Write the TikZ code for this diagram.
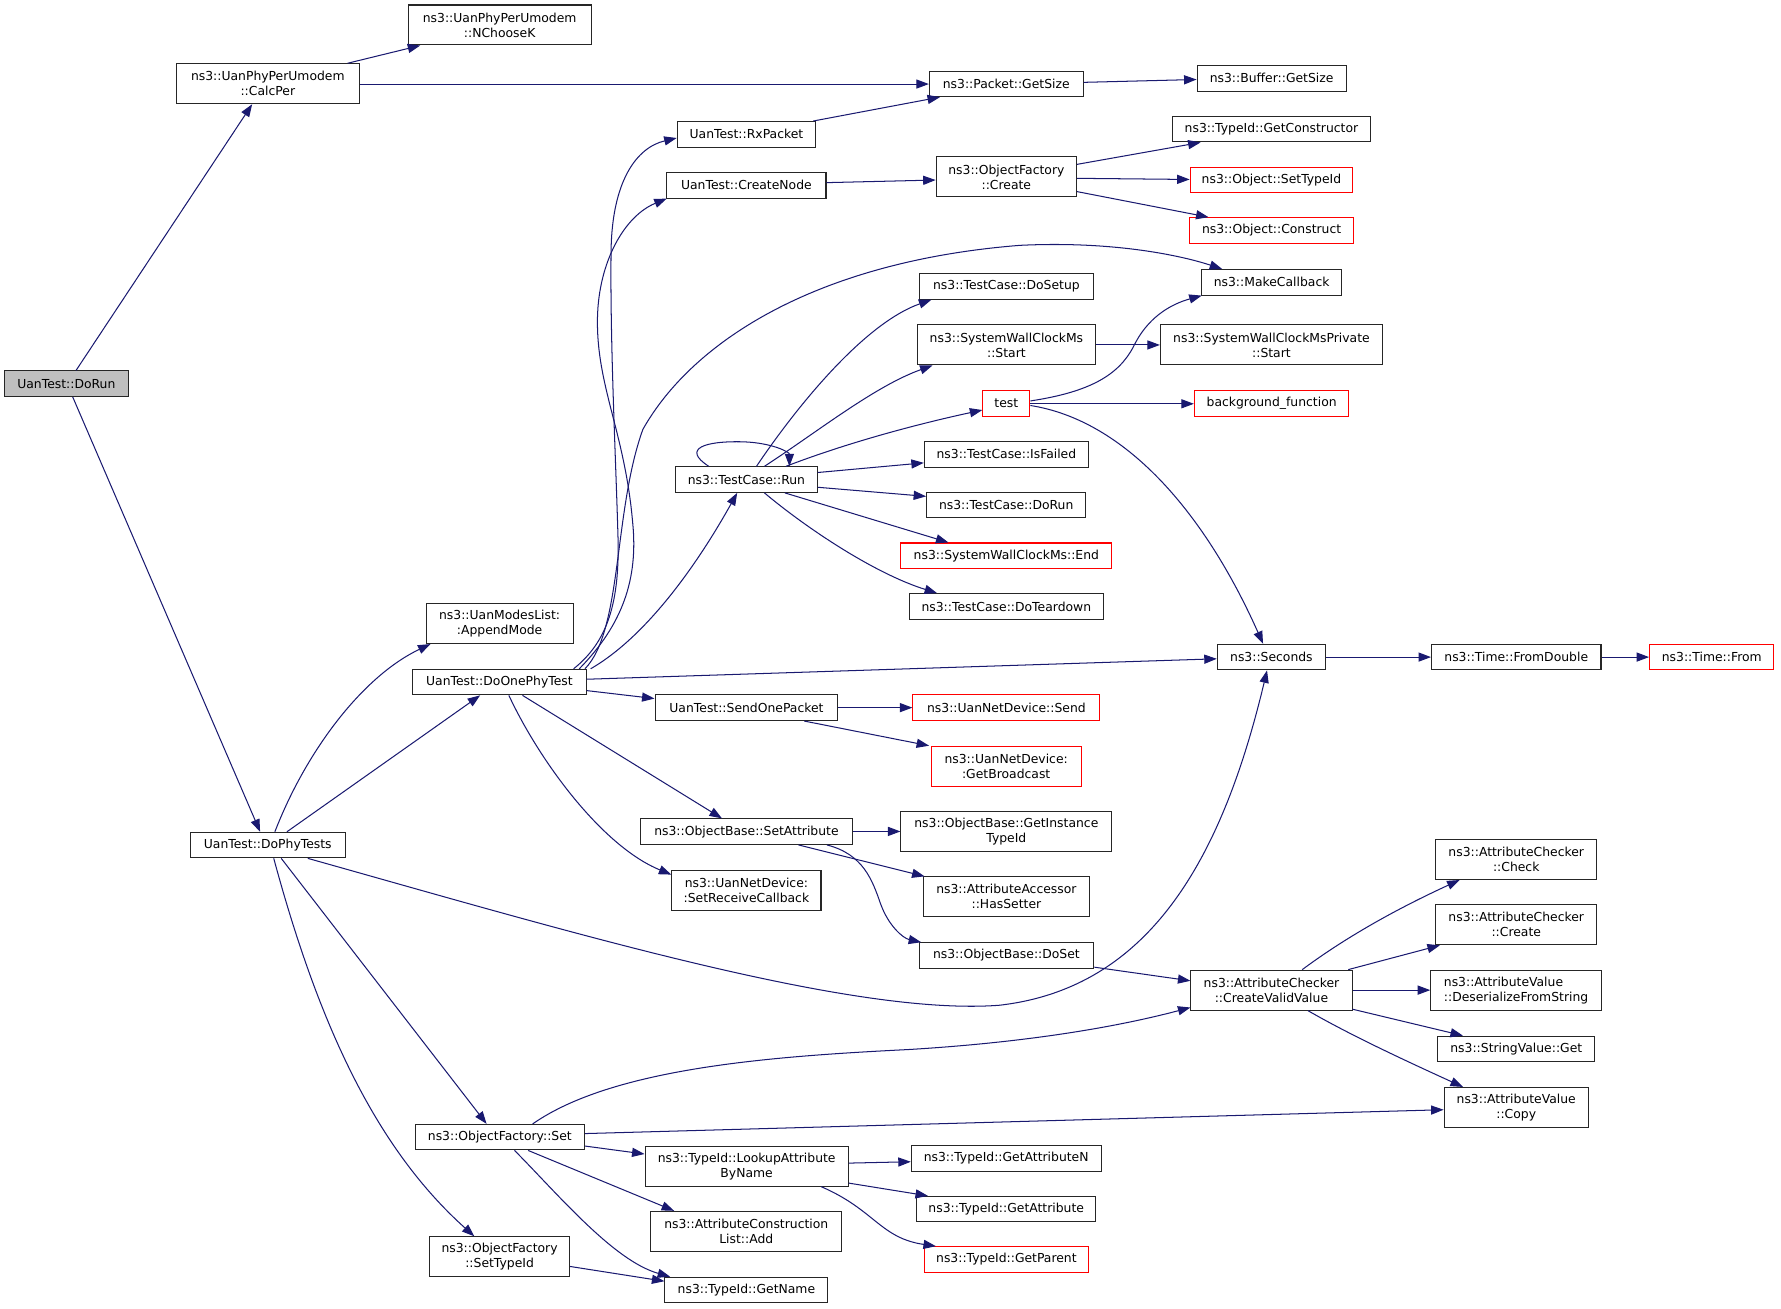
\documentclass[tikz,border=0pt]{standalone}
\usepackage{fontspec}
\setmainfont{DejaVu Sans}
\usetikzlibrary{arrows.meta}
\definecolor{edgec}{HTML}{191970}
\definecolor{boxc}{HTML}{262626}
\definecolor{redc}{HTML}{FF0000}
\definecolor{grayfill}{HTML}{BFBFBF}
\begin{document}
\begin{tikzpicture}[x=1pt,y=-1pt,
  box/.style={draw=boxc, line width=0.9pt, fill=white, inner sep=0pt, align=center,
    font=\fontsize{10.9pt}{13.2pt}\selectfont},
  redbox/.style={box, draw=redc},
  one/.style={minimum height=22.5pt},
  two/.style={minimum height=35.2pt},
  e/.style={draw=edgec, line width=0.9pt, -{Triangle[length=11pt,width=8pt]}, fill=none}]
\useasboundingbox (0,0) rectangle (1568,1152.4);
\fill[white] (0,0) rectangle (1568,1152.4);

% column 1
\node[box, one, fill=grayfill, minimum width=108.8pt] (dorun) at (58.4,337.75) {UanTest::DoRun};
% column 2
\node[box, two, minimum width=161pt] (calcper) at (235.8,73.75) {ns3::UanPhyPerUmodem\\::CalcPer};
\node[box, one, minimum width=136.1pt] (dophytests) at (235.75,744) {UanTest::DoPhyTests};
% column 3
\node[box, two, minimum width=161pt] (nchoosek) at (439.9,22) {ns3::UanPhyPerUmodem\\::NChooseK};
\node[box, two, minimum width=129.3pt] (append) at (439.85,549) {ns3::UanModesList:\\:AppendMode};
\node[box, one, minimum width=152.6pt] (doone) at (439.7,600.5) {UanTest::DoOnePhyTest};
\node[box, one, minimum width=149.3pt] (ofset) at (440.05,1001.15) {ns3::ObjectFactory::Set};
\node[box, two, minimum width=123.3pt] (ofsettid) at (439.85,1106.5) {ns3::ObjectFactory\\::SetTypeId};
% column 4
\node[box, one, minimum width=121.9pt] (rxpkt) at (657.15,118.25) {UanTest::RxPacket};
\node[box, one, minimum width=140.1pt] (createnode) at (657.15,163.15) {UanTest::CreateNode};
\node[box, one, minimum width=124.7pt] (run) at (657.15,422.25) {ns3::TestCase::Run};
\node[box, one, minimum width=161pt] (sendone) at (657.2,623.1) {UanTest::SendOnePacket};
\node[box, one, minimum width=186.6pt] (setattr) at (657.2,732.2) {ns3::ObjectBase::SetAttribute};
\node[box, two, minimum width=131.3pt] (setrecv) at (657.15,784) {ns3::UanNetDevice:\\:SetReceiveCallback};
\node[box, two, minimum width=178.9pt] (lookup) at (657.35,1026.7) {ns3::TypeId::LookupAttribute\\ByName};
\node[box, two, minimum width=168pt] (acladd) at (657,1084.05) {ns3::AttributeConstruction\\List::Add};
\node[box, one, minimum width=143.5pt] (getname) at (657.15,1135.7) {ns3::TypeId::GetName};
% column 5
\node[box, one, minimum width=135.4pt] (pktsize) at (885.9,73.8) {ns3::Packet::GetSize};
\node[box, two, minimum width=123.6pt] (ofcreate) at (886,155.8) {ns3::ObjectFactory\\::Create};
\node[box, one, minimum width=153.9pt] (dosetup) at (886.05,252.2) {ns3::TestCase::DoSetup};
\node[box, two, minimum width=157.3pt] (swcmstart) at (886.05,303.7) {ns3::SystemWallClockMs\\::Start};
\node[redbox, one, minimum width=41.4pt] (test) at (886,355.35) {test};
\node[box, one, minimum width=144.5pt] (isfailed) at (886.05,399.95) {ns3::TestCase::IsFailed};
\node[box, one, minimum width=140.1pt] (tcdorun) at (885.85,444.7) {ns3::TestCase::DoRun};
\node[redbox, one, minimum width=185.6pt] (swcmend) at (886,489.3) {ns3::SystemWallClockMs::End};
\node[box, one, minimum width=171.4pt] (teardown) at (886,533.9) {ns3::TestCase::DoTeardown};
\node[redbox, one, minimum width=164.7pt] (ndsend) at (886.05,623.1) {ns3::UanNetDevice::Send};
\node[redbox, two, minimum width=132.1pt] (getbcast) at (885.85,674.6) {ns3::UanNetDevice:\\:GetBroadcast};
\node[box, two, minimum width=185.6pt] (getinst) at (886,732.1) {ns3::ObjectBase::GetInstance\\TypeId};
\node[box, two, minimum width=146.5pt] (hassetter) at (886.05,789.6) {ns3::AttributeAccessor\\::HasSetter};
\node[box, one, minimum width=153.9pt] (doset) at (886.05,841.25) {ns3::ObjectBase::DoSet};
\node[box, one, minimum width=167.1pt] (getattrn) at (885.85,1019.8) {ns3::TypeId::GetAttributeN};
\node[box, one, minimum width=157.6pt] (getattr) at (885.9,1064.55) {ns3::TypeId::GetAttribute};
\node[redbox, one, minimum width=144.5pt] (getparent) at (886.05,1108.85) {ns3::TypeId::GetParent};
% column 6
\node[box, one, minimum width=131.3pt] (bufsize) at (1119.55,68.95) {ns3::Buffer::GetSize};
\node[box, one, minimum width=174.8pt] (getctor) at (1119.4,113.7) {ns3::TypeId::GetConstructor};
\node[redbox, one, minimum width=143.2pt] (settypeid) at (1119.4,158.3) {ns3::Object::SetTypeId};
\node[redbox, one, minimum width=144.9pt] (construct) at (1119.55,202.9) {ns3::Object::Construct};
\node[box, one, minimum width=123.3pt] (makecb) at (1119.55,248.55) {ns3::MakeCallback};
\node[box, two, minimum width=195.6pt] (swcmpriv) at (1119.4,303.7) {ns3::SystemWallClockMsPrivate\\::Start};
\node[redbox, one, minimum width=136.1pt] (bgfunc) at (1119.55,355.35) {background\_function};
\node[box, one, minimum width=95.3pt] (seconds) at (1119.35,578.5) {ns3::Seconds};
\node[box, two, minimum width=141.8pt] (cvv) at (1119.4,871.7) {ns3::AttributeChecker\\::CreateValidValue};
% column 7
\node[box, one, minimum width=149.2pt] (fromdouble) at (1334.9,578.5) {ns3::Time::FromDouble};
\node[box, two, minimum width=141.8pt] (acheck) at (1334.9,756.7) {ns3::AttributeChecker\\::Check};
\node[box, two, minimum width=141.8pt] (acreate) at (1334.9,814.2) {ns3::AttributeChecker\\::Create};
\node[box, two, minimum width=150.3pt, align=left] (deser) at (1334.75,871.7) {ns3::AttributeValue\\::DeserializeFromString};
\node[box, one, minimum width=138.5pt] (strget) at (1334.95,923.5) {ns3::StringValue::Get};
\node[box, two, minimum width=127pt] (avcopy) at (1334.9,975) {ns3::AttributeValue\\::Copy};
% column 8
\node[redbox, one, minimum width=109.5pt] (timefrom) at (1507.05,578.5) {ns3::Time::From};

% ---- edges ----
\draw[e] (67,0 |- dorun.north) -- (222,0 |- calcper.south);
\draw[e] (64,0 |- dorun.south) -- (229,0 |- dophytests.north);
\draw[e] (306,0 |- calcper.north) -- (370,0 |- nchoosek.south);
\draw[e] (calcper.east |- 0,74) -- (pktsize.west |- 0,74);
\draw[e] (pktsize.east |- 0,72.5) -- (bufsize.west |- 0,70);
\draw[e] (716,0 |- rxpkt.north) -- (827.6,0 |- pktsize.south);
\draw[e] (createnode.east |- 0,160.8) -- (ofcreate.west |- 0,158.5);
\draw[e] (ofcreate.east |- 0,144.7) -- (1057,0 |- getctor.south);
\draw[e] (ofcreate.east |- 0,157) -- (settypeid.west |- 0,158);
\draw[e] (ofcreate.east |- 0,168.7) -- (1064,0 |- construct.north);

% from DoOnePhyTest
\draw[e] (505,0 |- doone.north) .. controls (535,565) and (546,530) .. (544,470)
  .. controls (542,400) and (537,300) .. (538,220)
  .. controls (539,160) and (560,130) .. (rxpkt.west |- 0,121.5);
\draw[e] (510,0 |- doone.north) .. controls (548,550) and (562,510) .. (557,460)
  .. controls (550,380) and (525,340) .. (526,280)
  .. controls (527,230) and (550,190) .. (587,0 |- createnode.south);
\draw[e] (515,0 |- doone.north) .. controls (548,555) and (540,450) .. (566,378)
  .. controls (610,300) and (720,230) .. (898,216)
  .. controls (980,212) and (1040,225) .. (1076,0 |- makecb.north);
\draw[e] (520,0 |- doone.north) .. controls (570,560) and (615,495) .. (649,0 |- run.south);
\draw[e] (doone.east |- 0,598) -- (seconds.west |- 0,580);
\draw[e] (doone.east |- 0,608) -- (sendone.west |- 0,615);
\draw[e] (460,0 |- doone.south) -- (635.6,0 |- setattr.north);
\draw[e] (448,0 |- doone.south) .. controls (475,670) and (530,745) .. (setrecv.west |- 0,770);

% from DoPhyTests
\draw[e] (242,0 |- dophytests.north) .. controls (270,660) and (320,595) .. (379,0 |- append.south);
\draw[e] (252.6,0 |- dophytests.north) -- (422.7,0 |- doone.south);
\draw[e] (271,0 |- dophytests.south) .. controls (500,820) and (750,895) .. (880,885)
  .. controls (1010,870) and (1075,760) .. (1115.5,0 |- seconds.south);
\draw[e] (247.6,0 |- dophytests.south) -- (428.4,0 |- ofset.north);
\draw[e] (241,0 |- dophytests.south) .. controls (280,900) and (330,1010) .. (417.6,0 |- ofsettid.north);

% from TestCase::Run
\draw[e] (624,0 |- run.north) .. controls (600,395) and (620,388) .. (655,389)
  .. controls (680,390) and (695,398) .. (695,0 |- run.north);
\draw[e] (666,0 |- run.north) .. controls (700,360) and (760,285) .. (820,0 |- dosetup.south);
\draw[e] (673,0 |- run.north) .. controls (720,380) and (770,340) .. (821,0 |- swcmstart.south);
\draw[e] (692,0 |- run.north) .. controls (740,392) and (800,375) .. (test.west |- 0,361);
\draw[e] (run.east |- 0,416) -- (isfailed.west |- 0,407.5);
\draw[e] (run.east |- 0,429) -- (tcdorun.west |- 0,437);
\draw[e] (691,0 |- run.south) -- (835,0 |- swcmend.north);
\draw[e] (673,0 |- run.south) .. controls (710,465) and (770,505) .. (825,0 |- teardown.north);

\draw[e] (swcmstart.east |- 0,303.7) -- (swcmpriv.west |- 0,303.7);

% from test
\draw[e] (test.east |- 0,353) .. controls (960,345) and (985,330) .. (998,305)
  .. controls (1010,280) and (1030,268) .. (1058,0 |- makecb.south);
\draw[e] (test.east |- 0,355.5) -- (bgfunc.west |- 0,355.5);
\draw[e] (test.east |- 0,357) .. controls (990,370) and (1060,450) .. (1112,0 |- seconds.north);

\draw[e] (seconds.east |- 0,578.5) -- (fromdouble.west |- 0,578.5);
\draw[e] (fromdouble.east |- 0,578.5) -- (timefrom.west |- 0,578.5);

\draw[e] (sendone.east |- 0,623) -- (ndsend.west |- 0,623);
\draw[e] (708,0 |- sendone.south) -- (818,0 |- getbcast.north);

\draw[e] (setattr.east |- 0,732) -- (getinst.west |- 0,732);
\draw[e] (703,0 |- setattr.south) -- (814,0 |- hassetter.north);
\draw[e] (728,0 |- setattr.south) .. controls (760,752) and (768,775) .. (775,795)
  .. controls (782,815) and (795,826) .. (811,0 |- doset.north);
\draw[e] (doset.east |- 0,851.5) -- (cvv.west |- 0,863.5);

% from ObjectFactory::Set
\draw[e] (469,0 |- ofset.north) .. controls (540,940) and (680,930) .. (800,924)
  .. controls (900,918) and (980,905) .. (cvv.west |- 0,887);
\draw[e] (ofset.east |- 0,998) -- (avcopy.west |- 0,977);
\draw[e] (ofset.east |- 0,1009) -- (lookup.west |- 0,1016);
\draw[e] (465,0 |- ofset.south) -- (593.5,0 |- acladd.north);
\draw[e] (453,0 |- ofset.south) .. controls (490,1050) and (540,1110) .. (590,0 |- getname.north);
\draw[e] (ofsettid.east |- 0,1115) -- (getname.west |- 0,1128);

% from LookupAttributeByName
\draw[e] (lookup.east |- 0,1024) -- (getattrn.west |- 0,1022.8);
\draw[e] (lookup.east |- 0,1041.6) -- (817,0 |- getattr.north);
\draw[e] (723,0 |- lookup.south) .. controls (770,1065) and (775,1090) .. (824,0 |- getparent.north);

% from CreateValidValue
\draw[e] (1146.5,0 |- cvv.north) .. controls (1185,825) and (1230,800) .. (1285,0 |- acheck.south);
\draw[e] (1187,0 |- cvv.north) -- (1267.7,0 |- acreate.south);
\draw[e] (cvv.east |- 0,871.7) -- (deser.west |- 0,871.7);
\draw[e] (cvv.east |- 0,888.5) -- (1288,0 |- strget.north);
\draw[e] (1151.5,0 |- cvv.south) .. controls (1190,912) and (1240,935) .. (1288,0 |- avcopy.north);
\end{tikzpicture}
\end{document}
